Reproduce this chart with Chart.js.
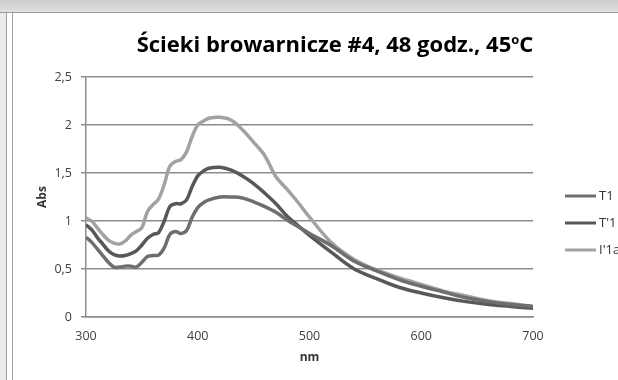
<!DOCTYPE html>
<html>
<head>
<meta charset="utf-8">
<script src="https://cdn.jsdelivr.net/npm/chart.js@4.4.1/dist/chart.umd.min.js"></script>
<style>
  html, body { margin: 0; padding: 0; width: 618px; height: 380px; overflow: hidden; background: #fff; }
  #wrap { position: relative; width: 670px; height: 380px; }
  #top { position: absolute; left: 0; top: 0; width: 618px; height: 12px; background: linear-gradient(#cdcdcd, #e0e0e0); border-bottom: 1px solid #9a9a9a; }
  #left { position: absolute; left: 0; top: 13px; width: 6px; height: 367px; background: #ececec; border-right: 1px solid #a0a0a0; }
  #left2 { position: absolute; left: 12px; top: 13px; width: 1px; height: 367px; background: #a0a0a0; }
</style>
</head>
<body>
<div id="wrap">
  <canvas id="wykres" width="670" height="380"></canvas>
  <div id="top"></div>
  <div id="left"></div>
  <div id="left2"></div>
</div>
<script>
const tytul = 'Ścieki browarnicze #4, 48 godz., 45';
const tytulSup = 'o';
const tytulKoniec = 'C';

const nm = [300, 305, 310, 315, 320, 325, 330, 335, 340, 345, 350, 355, 360, 365, 370, 375, 380, 385, 390, 395,
    400, 405, 410, 420, 430, 440, 450, 460, 470, 480, 490, 500, 520, 540, 560, 580, 600, 620, 640, 660, 680, 700];

const absT1 = [0.83, 0.78, 0.71, 0.64, 0.57, 0.52, 0.52, 0.53, 0.53, 0.52, 0.57, 0.63, 0.64, 0.645, 0.72, 0.86, 0.89, 0.87, 0.90, 1.04,
    1.14, 1.19, 1.22, 1.25, 1.25, 1.24, 1.20, 1.15, 1.09, 1.01, 0.94, 0.87, 0.74, 0.58, 0.48, 0.39, 0.32, 0.26, 0.20, 0.16, 0.13, 0.11];

const absT1p = [0.96, 0.91, 0.83, 0.76, 0.69, 0.65, 0.635, 0.64, 0.66, 0.69, 0.75, 0.82, 0.86, 0.88, 1.00, 1.15, 1.18, 1.18, 1.22, 1.36,
    1.47, 1.52, 1.55, 1.56, 1.53, 1.47, 1.39, 1.29, 1.18, 1.05, 0.95, 0.85, 0.67, 0.50, 0.40, 0.31, 0.25, 0.20, 0.16, 0.13, 0.11, 0.09];

const absI1a = [1.03, 1.00, 0.93, 0.86, 0.80, 0.77, 0.76, 0.79, 0.85, 0.89, 0.93, 1.10, 1.17, 1.23, 1.38, 1.57, 1.62, 1.64, 1.72, 1.88,
    2.00, 2.04, 2.07, 2.08, 2.05, 1.95, 1.82, 1.68, 1.46, 1.33, 1.19, 1.04, 0.77, 0.60, 0.49, 0.41, 0.34, 0.27, 0.22, 0.17, 0.14, 0.11];

const etykiety = ['T1', "T'1", "I'1a"];
const kolory = ['#6e6e6e', '#585858', '#a2a2a2'];
const seria = [absT1, absT1p, absI1a];

const ticksX = [300, 400, 500, 600, 700];
const ticksY = [0, 0.5, 1, 1.5, 2, 2.5];

const toPoints = (vals) => nm.map((x, i) => ({ x: x, y: vals[i] }));

const tytulPlugin = {
    id: 'tytul',
    afterDraw(chart) {
        const ctx = chart.ctx;
        ctx.save();
        const big = 'bold 22px "Open Sans"';
        const small = 'bold 13px "Open Sans"';
        ctx.font = big;
        const w1 = ctx.measureText(tytul).width;
        const w3 = ctx.measureText(tytulKoniec).width;
        ctx.font = small;
        const w2 = ctx.measureText(tytulSup).width;
        let x = 335 - (w1 + w2 + w3) / 2;
        const y = 52;
        ctx.fillStyle = '#000';
        ctx.textBaseline = 'alphabetic';
        ctx.font = big;
        ctx.fillText(tytul, x, y);
        x += w1;
        ctx.font = small;
        ctx.fillText(tytulSup, x, y - 8);
        x += w2;
        ctx.font = big;
        ctx.fillText(tytulKoniec, x, y);
        ctx.restore();
    }
};

const legendaPlugin = {
    id: 'legenda',
    afterDraw(chart) {
        const ctx = chart.ctx;
        const x0 = chart.chartArea.right + 32;
        ctx.save();
        ctx.font = '13px "Open Sans"';
        ctx.textBaseline = 'middle';
        chart.data.datasets.forEach((ds, i) => {
            const y = 196 + i * 27;
            ctx.strokeStyle = ds.borderColor;
            ctx.lineWidth = 3;
            ctx.beginPath();
            ctx.moveTo(x0, y);
            ctx.lineTo(x0 + 31, y);
            ctx.stroke();
            ctx.fillStyle = '#333';
            ctx.fillText(ds.label, x0 + 34, y);
        });
        ctx.restore();
    }
};

new Chart(document.getElementById('wykres'), {
    type: 'line',
    data: {
        datasets: seria.map((vals, i) => ({
            label: etykiety[i],
            data: toPoints(vals),
            borderColor: kolory[i],
            backgroundColor: kolory[i],
            borderWidth: 3.5,
            pointRadius: 0,
            fill: false,
            tension: 0.35
        }))
    },
    options: {
        responsive: false,
        animation: false,
        layout: { padding: { left: 31, top: 77, right: 137, bottom: 11 } },
        plugins: {
            legend: { display: false },
            title: { display: false },
            tooltip: { enabled: false }
        },
        scales: {
            x: {
                type: 'linear',
                min: 300,
                max: 700,
                afterBuildTicks: (s) => { s.ticks = ticksX.map(v => ({ value: v })); },
                afterFit: (s) => { s.height = 52; },
                grid: { display: false, drawTicks: false },
                border: { display: true, color: '#8c8c8c', width: 1.5 },
                ticks: { padding: 12, color: '#404040', font: { family: 'Open Sans', size: 12.5 } },
                title: { display: true, text: 'nm', color: '#333', font: { family: 'Open Sans', size: 12, weight: 'bold' } }
            },
            y: {
                min: 0,
                max: 2.5,
                afterBuildTicks: (s) => { s.ticks = ticksY.map(v => ({ value: v })); },
                afterFit: (s) => { s.width = 55; },
                grid: { color: '#8c8c8c', lineWidth: 1.5, tickLength: 5, tickColor: '#8c8c8c' },
                border: { display: true, color: '#8c8c8c', width: 1.5 },
                ticks: {
                    padding: 9,
                    color: '#404040',
                    font: { family: 'Open Sans', size: 12.5 },
                    callback: (v) => String(v).replace('.', ',')
                },
                title: { display: true, text: 'Abs', color: '#333', font: { family: 'Open Sans', size: 12, weight: 'bold' } }
            }
        }
    },
    plugins: [tytulPlugin, legendaPlugin]
});
</script>
</body>
</html>
